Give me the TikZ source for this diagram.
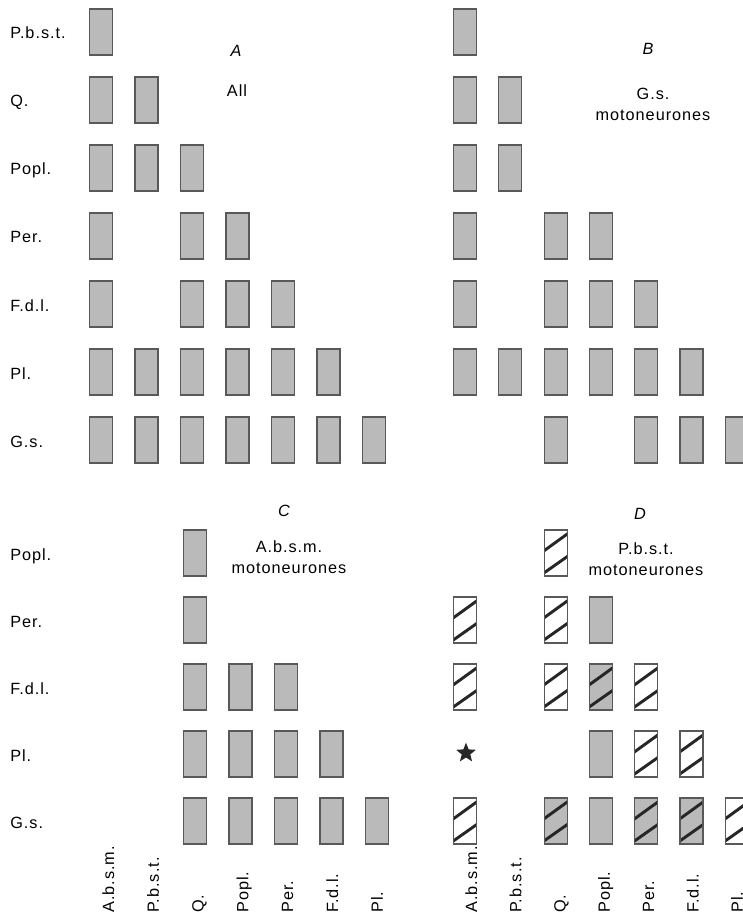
\documentclass[tikz,border=0pt]{standalone}
\usepackage{fontspec}
\setmainfont[LetterSpace=6]{Liberation Sans}
\usetikzlibrary{calc,positioning,shapes.geometric}

\begin{document}
\begin{tikzpicture}[x=0.75pt, y=-0.75pt, font=\fontsize{12.2}{16}\selectfont,
  cell/.style={rectangle, draw=black!65, line width=0.9pt, fill=black!27,
    minimum width=17.25pt, minimum height=34.5pt, inner sep=0pt},
  hatched/.style={cell, fill=white, path picture={
    \draw[black!85, line width=2.2pt]
      ($(path picture bounding box.center)+(-13,-1.2)$) -- ($(path picture bounding box.center)+(13,-20)$)
      ($(path picture bounding box.center)+(-13,20.9)$) -- ($(path picture bounding box.center)+(13,2.6)$);}},
  both/.style={hatched, fill=black!27},
  starmark/.style={star, star points=5, star point ratio=2.3, fill=black!85,
    minimum size=15.5pt, inner sep=0pt},
  rowlab/.style={anchor=base west, inner sep=0pt},
  collab/.style={rotate=90, anchor=base west, inner sep=0pt},
  sub/.style={align=center, anchor=north, inner sep=0pt}]
 \useasboundingbox (0,0) rectangle (742,916);

 % row labels
 \foreach \t [count=\r] in {P.b.s.t.,Q.,Popl.,Per.,F.d.l.,Pl.,G.s.}
  \node (rowA-\r) [rowlab] at (10,{39+68*(\r-1)}) {\t};
 \foreach \t [count=\r] in {Popl.,Per.,F.d.l.,Pl.,G.s.}
  \node (rowC-\r) [rowlab] at (10,{560+67*(\r-1)}) {\t};

 % column labels
 \foreach \t [count=\c] in {A.b.s.m.,P.b.s.t.,Q.,Popl.,Per.,F.d.l.,Pl.} {
  \node (colC-\c) [collab] at ({114+44.8*(\c-1)},913) {\t};
  \node (colD-\c) [collab] at ({477+44.3*(\c-1)},913) {\t};
 }

 % A: all
 \foreach \r/\c in {1/1,2/1,2/2,3/1,3/2,3/3,4/1,4/3,4/4,5/1,5/3,5/4,5/5,
   6/1,6/2,6/3,6/4,6/5,6/6,7/1,7/2,7/3,7/4,7/5,7/6,7/7}
  \node (A-\r-\c) [cell] at ({101+45.5*(\c-1)},{32+68*(\r-1)}) {};
 \node (tA) at (236,51) {\itshape A};
 \node (sA) at (237,91) {All};

 % B: G.s.
 \foreach \r/\c in {1/1,2/1,2/2,3/1,3/2,4/1,4/3,4/4,5/1,5/3,5/4,5/5,
   6/1,6/2,6/3,6/4,6/5,6/6,7/3,7/5,7/6,7/7}
  \node (B-\r-\c) [cell] at ({465+45.3*(\c-1)},{32+68*(\r-1)}) {};
 \node (tB) at (648,49) {\itshape B};
 \node (sB) [sub] at (653,88) {G.s.\\motoneurones};

 % C: A.b.s.m.
 \foreach \r/\c in {1/3,2/3,3/3,3/4,3/5,4/3,4/4,4/5,4/6,5/3,5/4,5/5,5/6,5/7}
  \node (C-\r-\c) [cell] at ({104+45.5*(\c-1)},{553+67*(\r-1)}) {};
 \node (tC) at (284,511) {\itshape C};
 \node (sC) [sub] at (289,540) {A.b.s.m.\\motoneurones};

 % D: P.b.s.t.
 \foreach \r/\c/\s in {1/3/hatched,2/1/hatched,2/3/hatched,2/4/cell,
   3/1/hatched,3/3/hatched,3/4/both,3/5/hatched,4/4/cell,4/5/hatched,4/6/hatched,
   5/1/hatched,5/3/both,5/4/cell,5/5/both,5/6/both,5/7/hatched}
  \node (D-\r-\c) [\s] at ({465+45.3*(\c-1)},{553+67*(\r-1)}) {};
 \node (D-4-1) [starmark] at (466,753) {};
 \node (tD) at (640,514) {\itshape D};
 \node (sD) [sub] at (646,542) {P.b.s.t.\\motoneurones};
\end{tikzpicture}
\end{document}
